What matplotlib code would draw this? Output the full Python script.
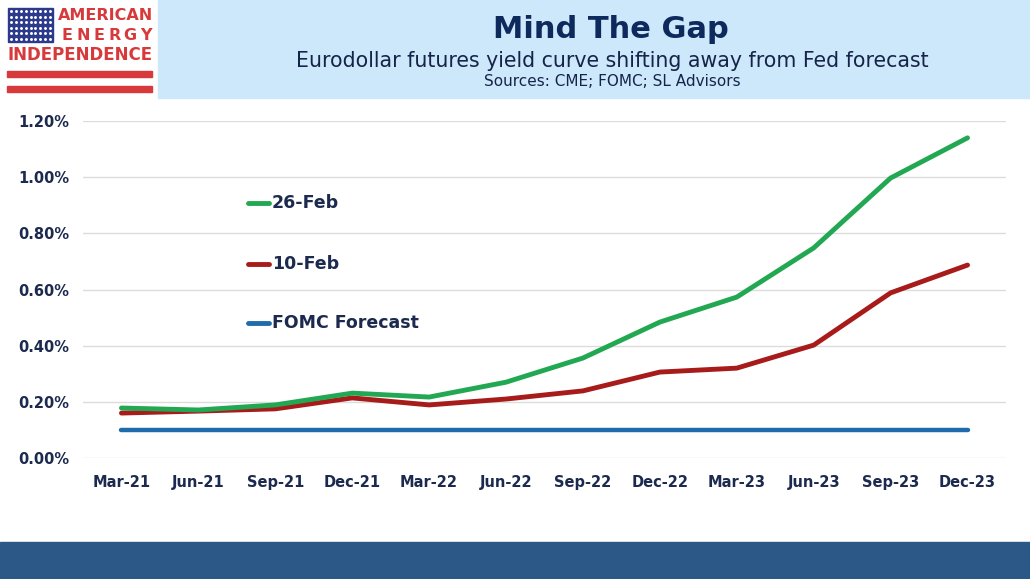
import numpy as np
import matplotlib.pyplot as plt
from matplotlib.patches import Rectangle

# data (percent)
quarters = ['Mar-21', 'Jun-21', 'Sep-21', 'Dec-21', 'Mar-22', 'Jun-22',
            'Sep-22', 'Dec-22', 'Mar-23', 'Jun-23', 'Sep-23', 'Dec-23']
feb26 = [0.178, 0.171, 0.189, 0.231, 0.217, 0.270, 0.356, 0.484, 0.573, 0.748, 0.997, 1.140]
feb10 = [0.160, 0.167, 0.175, 0.214, 0.189, 0.210, 0.239, 0.306, 0.320, 0.402, 0.588, 0.687]
fomc = [0.10] * 12
yticks = [0.0, 0.2, 0.4, 0.6, 0.8, 1.0, 1.2]

navy = '#1b2a4e'
W, H = 1030, 579

fig = plt.figure(figsize=(W / 100, H / 100), dpi=100)
fig.patch.set_facecolor('white')

# header box and footer bar
fig.patches.append(Rectangle((158 / W, 1 - 98 / H), 1 - 158 / W, 98 / H,
                             transform=fig.transFigure, color='#cde8fb', zorder=0))
fig.patches.append(Rectangle((0, 0), 1, (H - 542) / H,
                             transform=fig.transFigure, color='#2b5886', zorder=0))

fig.text(611 / W, 1 - 30 / H, 'Mind The Gap', ha='center', va='center',
         fontsize=22, fontweight='bold', color='#0e2a5c')
fig.text(612 / W, 1 - 61 / H, 'Eurodollar futures yield curve shifting away from Fed forecast',
         ha='center', va='center', fontsize=14.8, color='#16244a')
fig.text(612 / W, 1 - 82 / H, 'Sources: CME; FOMC; SL Advisors',
         ha='center', va='center', fontsize=11, color='#16244a')

# logo
lg = fig.add_axes([0, 1 - 100 / H, 158 / W, 100 / H])
lg.set_xlim(0, 158)
lg.set_ylim(100, 0)
lg.axis('off')
red = '#d8393b'
lg.add_patch(Rectangle((8, 8), 45, 34, color='#2b3a8c'))
sx, sy = np.meshgrid(np.linspace(11, 50, 9), np.linspace(11, 39, 6))
lg.scatter(sx.ravel(), sy.ravel(), s=1.2, color='white')
lg.text(106, 16, 'AMERICAN', ha='center', va='center', fontsize=11.5,
        fontweight='bold', color=red)
for i, ch in enumerate('ENERGY'):
    lg.text(67 + i * 15.8, 35, ch, ha='center', va='center', fontsize=11.5,
            fontweight='bold', color=red)
lg.text(80, 55, 'INDEPENDENCE', ha='center', va='center', fontsize=12,
        fontweight='bold', color=red)
lg.add_patch(Rectangle((7, 71), 145, 6, color=red))
lg.add_patch(Rectangle((7, 86), 145, 6, color=red))

# main chart
ax = fig.add_axes([83 / W, (H - 458) / H, 923 / W, 337 / H])
x = np.arange(len(quarters))
ax.plot(x, fomc, color='#1f6cad', lw=3.2, solid_capstyle='round', zorder=3)
ax.plot(x, feb10, color='#a81b1b', lw=3.5, solid_capstyle='round', zorder=4)
ax.plot(x, feb26, color='#22a852', lw=3.5, solid_capstyle='round', zorder=5)

ax.set_xlim(-0.5, len(quarters) - 0.5)
ax.set_ylim(0, 1.2)
ax.set_yticks(yticks)
ax.set_yticklabels(['%.2f%%' % v for v in yticks])
ax.set_xticks(x)
ax.set_xticklabels(quarters)
ax.grid(axis='y', color='#dcdcdc', lw=1)
ax.set_axisbelow(True)
for s in ax.spines.values():
    s.set_visible(False)
ax.tick_params(length=0, labelsize=10.5, labelcolor=navy, pad=12)
ax.tick_params(axis='y', pad=10)
for lab in ax.get_xticklabels() + ax.get_yticklabels():
    lab.set_fontweight('bold')

# inline legend
leg = [('26-Feb', '#22a852', 203), ('10-Feb', '#a81b1b', 264),
       ('FOMC Forecast', '#1f6cad', 323)]
for name, col, py in leg:
    fy = 1 - py / H
    fig.add_artist(plt.Line2D([248 / W, 269 / W], [fy, fy], color=col, lw=3.5,
                              solid_capstyle='round', transform=fig.transFigure))
    fig.text(272 / W, fy, name, ha='left', va='center', fontsize=12.5,
             fontweight='bold', color=navy)

fig.savefig('out.png', dpi=100)
